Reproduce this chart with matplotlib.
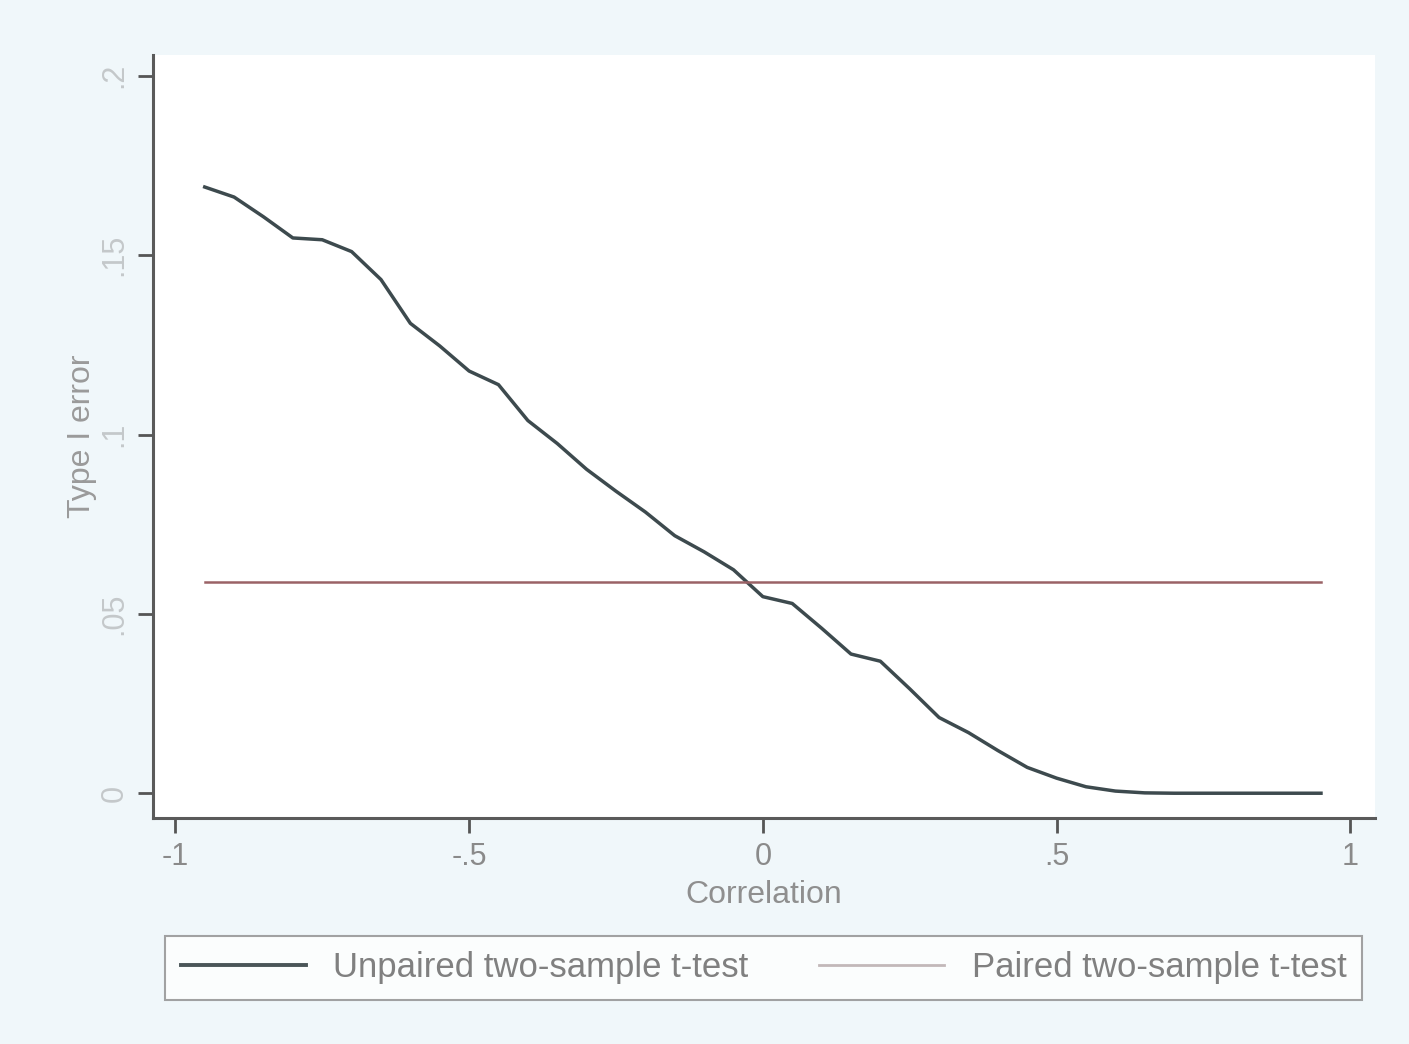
import matplotlib
matplotlib.use("Agg")
import matplotlib.pyplot as plt
from matplotlib import font_manager

# ---- data ----
correlation = [-0.95, -0.90, -0.85, -0.80, -0.75, -0.70, -0.65, -0.60, -0.55, -0.50,
               -0.45, -0.40, -0.35, -0.30, -0.25, -0.20, -0.15, -0.10, -0.05, 0.00,
               0.05, 0.10, 0.15, 0.20, 0.25, 0.30, 0.35, 0.40, 0.45, 0.50,
               0.55, 0.60, 0.65, 0.70, 0.75, 0.80, 0.85, 0.90, 0.95]
unpaired = [0.1690, 0.1662, 0.1607, 0.1548, 0.1543, 0.1510, 0.1432, 0.1310, 0.1247, 0.1177,
            0.1139, 0.1039, 0.0975, 0.0903, 0.0842, 0.0784, 0.0718, 0.0673, 0.0623, 0.0548,
            0.0529, 0.0460, 0.0388, 0.0368, 0.0291, 0.0211, 0.0169, 0.0119, 0.0072, 0.0042,
            0.0018, 0.0006, 0.0001, 0.0, 0.0, 0.0, 0.0, 0.0, 0.0]
paired = [0.059] * len(correlation)
series_labels = ["Unpaired two-sample t-test", "Paired two-sample t-test"]
xticks = [-1, -0.5, 0, 0.5, 1]
xticklabels = ["-1", "-.5", "0", ".5", "1"]
yticks = [0, 0.05, 0.1, 0.15, 0.2]
yticklabels = ["0", ".05", ".1", ".15", ".2"]

names = {f.name for f in font_manager.fontManager.ttflist}
fam = "Liberation Sans Narrow" if "Liberation Sans Narrow" in names else "Liberation Sans"
plt.rcParams["font.family"] = [fam, "DejaVu Sans"]

bg = "#f0f7fa"
fig = plt.figure(figsize=(14.09, 10.44), dpi=100, facecolor=bg)
ax = fig.add_axes([0.1086, 0.2165, 0.9759 - 0.1086, 0.9473 - 0.2165])
ax.set_facecolor("white")

ax.plot(correlation, unpaired, color="#3d4a4e", lw=2.5, label=series_labels[0])
ax.plot(correlation, paired, color="#9a6266", lw=1.8, label=series_labels[1])

ax.set_xlim(-1.038, 1.042)
ax.set_ylim(-0.0069, 0.2058)
ax.set_xticks(xticks)
ax.set_xticklabels(xticklabels, fontsize=22, color="#8a8a8a")
ax.set_yticks(yticks)
ax.set_yticklabels(yticklabels, fontsize=22, color="#c4c8ca", rotation=90, va="center")
ax.tick_params(axis="both", direction="out", length=11, width=2, color="#555555", pad=6)

for s in ["top", "right"]:
    ax.spines[s].set_visible(False)
for s in ["left", "bottom"]:
    ax.spines[s].set_color("#5a5a5a")
    ax.spines[s].set_linewidth(2.2)

ax.set_xlabel("Correlation", fontsize=23, color="#8f8f8f", labelpad=6)
ax.set_ylabel("Type I error", fontsize=23, color="#9a9a9a", labelpad=2)

h1 = plt.Line2D([], [], color="#4a5558", lw=2.8)
h2 = plt.Line2D([], [], color="#c2b8b9", lw=2.0)
leg = fig.legend([h1, h2], series_labels, loc="lower left",
                 bbox_to_anchor=(0.1171, 0.0421, 0.8495, 0.0623), mode="expand",
                 ncol=2, fontsize=25, frameon=True, fancybox=False,
                 handlelength=3.6, handletextpad=0.8, columnspacing=2.5,
                 borderaxespad=0, borderpad=0.45)
leg.get_frame().set_edgecolor("#8c8c8c")
leg.get_frame().set_linewidth(1.5)
leg.get_frame().set_facecolor("white")
for t in leg.get_texts():
    t.set_color("#808080")

fig.savefig("out.png", dpi=100, facecolor=bg)
